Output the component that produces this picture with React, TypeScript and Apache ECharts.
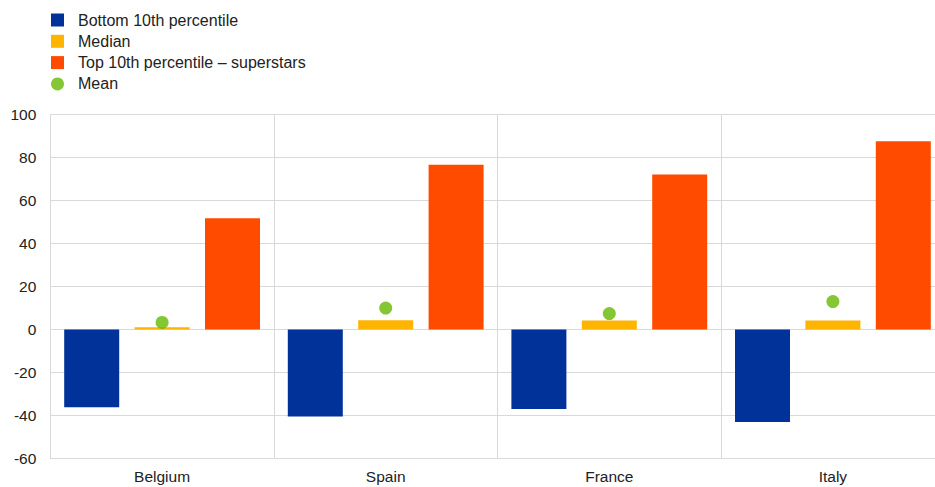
import React, { useEffect, useRef } from "react";
import * as echarts from "echarts";

const categories = ["Belgium", "Spain", "France", "Italy"];
const bottom10 = [-36.1, -40.4, -36.9, -42.9];
const median = [1.1, 4.3, 4.2, 4.2];
const top10 = [51.7, 76.6, 72.0, 87.5];
const mean = [3.3, 10.0, 7.4, 13.0];

const FONT = "'Liberation Sans', Arial, sans-serif";
const GRID_COLOR = "#d9d9d9";

export default function App() {
  const ref = useRef<HTMLDivElement>(null);
  useEffect(() => {
    if (!ref.current) return;
    const chart = echarts.init(ref.current, undefined, { renderer: "svg" });
    chart.setOption({
      animation: false,
      textStyle: { fontFamily: FONT },
      legend: {
        orient: "vertical",
        left: 46,
        top: 6,
        itemWidth: 13,
        itemHeight: 13,
        itemGap: 3.3,
        textStyle: {
          fontFamily: FONT,
          fontSize: 16,
          color: "#222",
          lineHeight: 18,
          padding: [0, 0, 0, 9],
        },
        data: [
          { name: "Bottom 10th percentile", icon: "rect" },
          { name: "Median", icon: "rect" },
          { name: "Top 10th percentile – superstars", icon: "rect" },
          { name: "Mean", icon: "circle" },
        ],
      },
      grid: {
        left: 50.3,
        width: 894.4,
        top: 114.3,
        bottom: 28.3,
        containLabel: false,
        outerBoundsMode: "none",
      },
      xAxis: {
        type: "category",
        data: categories,
        axisLine: { onZero: false, lineStyle: { color: GRID_COLOR } },
        axisTick: { show: false },
        splitLine: { show: true, interval: 0, lineStyle: { color: GRID_COLOR } },
        axisLabel: { fontFamily: FONT, fontSize: 15.5, color: "#222", margin: 10 },
      },
      yAxis: {
        type: "value",
        min: -60,
        max: 100,
        interval: 20,
        axisLine: { show: true, lineStyle: { color: GRID_COLOR } },
        axisTick: { show: false },
        splitLine: { show: true, lineStyle: { color: GRID_COLOR } },
        axisLabel: { fontFamily: FONT, fontSize: 15.5, color: "#222", margin: 14 },
      },
      series: [
        {
          name: "Bottom 10th percentile",
          type: "bar",
          data: bottom10,
          barWidth: 55,
          barGap: "28%",
          itemStyle: { color: "#003299" },
        },
        {
          name: "Median",
          type: "bar",
          data: median,
          barWidth: 55,
          barGap: "28%",
          itemStyle: { color: "#FFB400" },
        },
        {
          name: "Top 10th percentile – superstars",
          type: "bar",
          data: top10,
          barWidth: 55,
          barGap: "28%",
          itemStyle: { color: "#FF4B00" },
        },
        {
          name: "Mean",
          type: "scatter",
          data: mean,
          symbol: "circle",
          symbolSize: 13,
          itemStyle: { color: "#65B800" },
          z: 5,
        },
      ],
    });
    return () => chart.dispose();
  }, []);
  return <div ref={ref} style={{ width: 935, height: 487, position: "absolute", left: 0, top: 0 }} />;
}
